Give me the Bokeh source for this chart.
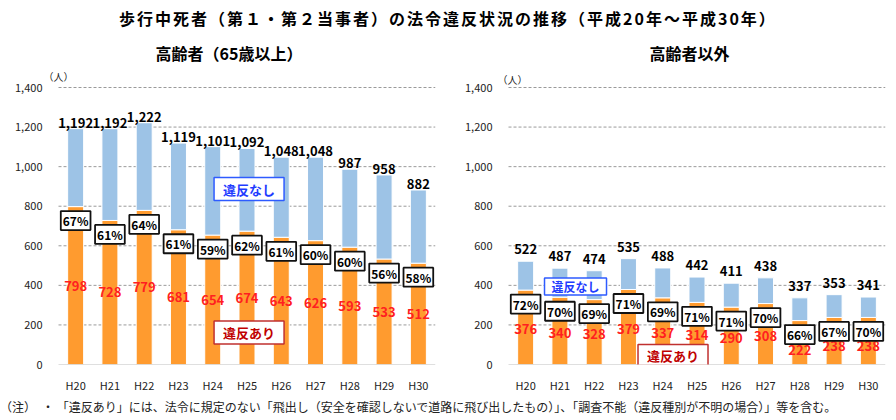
from bokeh.plotting import figure
from bokeh.models import Div, Label, Range1d, FixedTicker, NumeralTickFormatter, ColumnDataSource
from bokeh.layouts import column, row
from bokeh.embed import file_html
from bokeh.resources import INLINE
from bokeh.core.properties import value

years = ["H20", "H21", "H22", "H23", "H24", "H25", "H26", "H27", "H28", "H29", "H30"]
old_total = [1192, 1192, 1222, 1119, 1101, 1092, 1048, 1048, 987, 958, 882]
old_viol = [798, 728, 779, 681, 654, 674, 643, 626, 593, 533, 512]
old_pct = [67, 61, 64, 61, 59, 62, 61, 60, 60, 56, 58]
young_total = [522, 487, 474, 535, 488, 442, 411, 438, 337, 353, 341]
young_viol = [376, 340, 328, 379, 337, 314, 290, 308, 222, 238, 238]
young_pct = [72, 70, 69, 71, 69, 71, 71, 70, 66, 67, 70]
y_ticks = [0, 200, 400, 600, 800, 1000, 1200, 1400]

MAIN_TITLE = "歩行中死者（第１・第２当事者）の法令違反状況の推移（平成20年～平成30年）"
SUB_OLD = "高齢者（65歳以上）"
SUB_YOUNG = "高齢者以外"
NOTE = "（注）　・ 「違反あり」には、法令に規定のない「飛出し（安全を確認しないで道路に飛び出したもの）」、「調査不能（違反種別が不明の場合）」等を含む。"

FONT = "Noto Sans CJK JP"
ORANGE = "#FF9B2F"
BLUE = "#9DC3E6"
RED = "#FF2020"
X0 = -0.938
Y1 = 1491


def panel(total, viol, pct, subtitle, width, mb_right, title_align, title_offset,
          nashi, ari, unit_xy, red_low, total_off):
    p = figure(width=width, height=361, frame_width=392, frame_height=295,
               x_range=Range1d(X0, 10.5), y_range=Range1d(0, Y1),
               output_backend="svg", toolbar_location=None,
               min_border_left=43, min_border_right=mb_right,
               min_border_top=34, min_border_bottom=32)
    p.outline_line_color = None
    p.background_fill_color = "white"
    p.border_fill_color = "white"
    p.title.text = subtitle
    p.title.align = title_align
    p.title.text_font = FONT
    p.title.text_font_size = "16px"
    p.title.text_font_style = "bold"
    p.title.text_color = "#000000"
    p.title.offset = title_offset
    p.title.standoff = 9

    idx = list(range(len(years)))
    if red_low:
        red_y = [min(v / 2 - 10, v - 147) for v in viol]
    else:
        red_y = [v / 2 for v in viol]
    src = ColumnDataSource(dict(
        x=idx, total=total, viol=viol,
        total_lbl=[f"{t:,}" for t in total],
        viol_lbl=[str(v) for v in viol],
        pct_lbl=[f"{q}%" for q in pct],
        red_y=red_y,
    ))
    grid = ColumnDataSource(dict(y=[t for t in y_ticks if t > 0]))
    p.segment(x0=-0.5, x1=10.5, y0="y", y1="y", source=grid, line_color="#9A9A9A",
              line_dash="3 2", line_width=1)

    p.vbar(x="x", bottom=0, top="viol", width=0.467, fill_color=ORANGE,
           line_color="white", line_width=1, source=src)
    p.vbar(x="x", bottom="viol", top="total", width=0.467, fill_color=BLUE,
           line_color="white", line_width=1, source=src)
    p.segment(x0=-0.5, x1=10.5, y0=0, y1=0, line_color="#BFBFBF", line_width=1)

    p.text(x="x", y="total", text="total_lbl", source=src, text_align="center",
           text_baseline="bottom", y_offset=total_off, text_font=value(FONT),
           text_font_size="13px", text_font_style="bold", text_color="#000000")
    p.text(x="x", y="red_y", text="viol_lbl", source=src, text_align="center",
           text_baseline="middle", text_font=value(FONT),
           text_font_size="13px", text_font_style="bold", text_color=RED)
    p.text(x="x", y="viol", text="pct_lbl", source=src, text_align="center",
           text_baseline="middle", y_offset=14, text_font=value(FONT),
           text_font_size="12px", text_font_style="bold", text_color="#000000",
           background_fill_color="white", border_line_color="#111111",
           border_line_width=1.8, padding=(2, 1))

    p.add_layout(Label(x=nashi[0], y=nashi[1], text="違反なし", text_align="center",
                       text_baseline="middle", text_font=FONT, text_font_size=nashi[2],
                       text_font_style="bold", text_color="#1F3CFF",
                       background_fill_color="white", border_line_color="#2E5BFF",
                       border_line_width=1.5, padding=nashi[3]))
    p.add_layout(Label(x=ari[0], y=ari[1], text="違反あり", text_align="center",
                       text_baseline="middle", text_font=FONT, text_font_size=ari[2],
                       text_font_style="bold", text_color="#C00000",
                       background_fill_color="white", border_line_color="#C0302F",
                       border_line_width=1.5, padding=ari[3]))
    p.add_layout(Label(x=unit_xy[0], y=unit_xy[1], text="（人）",
                       text_align="left", text_baseline="middle", text_font=FONT,
                       text_font_size="10px", text_color="#222222"))

    p.xgrid.grid_line_color = None
    p.ygrid.grid_line_color = None

    p.yaxis.ticker = FixedTicker(ticks=y_ticks)
    p.yaxis.formatter = NumeralTickFormatter(format="0,0")
    p.yaxis.axis_line_color = None
    p.yaxis.major_tick_line_color = None
    p.yaxis.minor_tick_line_color = None
    p.yaxis.major_tick_out = 0
    p.yaxis.major_tick_in = 0
    p.yaxis.minor_tick_out = 0
    p.yaxis.major_label_standoff = 1
    p.yaxis.major_label_text_font = FONT
    p.yaxis.major_label_text_font_size = "11px"
    p.yaxis.major_label_text_color = "#222222"

    p.xaxis.ticker = FixedTicker(ticks=idx)
    p.xaxis.major_label_overrides = {i: y for i, y in zip(idx, years)}
    p.xaxis.axis_line_color = None
    p.xaxis.major_tick_line_color = None
    p.xaxis.minor_tick_line_color = None
    p.xaxis.major_tick_out = 0
    p.xaxis.major_tick_in = 0
    p.xaxis.minor_tick_out = 0
    p.xaxis.major_label_standoff = 12
    p.xaxis.major_label_text_font = FONT
    p.xaxis.major_label_text_font_size = "11px"
    p.xaxis.major_label_text_color = "#222222"
    return p


p1 = panel(old_total, old_viol, old_pct, SUB_OLD, 450, 15, "left", 112,
           (5.06, 887, "13px", (9, 2)), (5.06, 162, "13px", (9, 2)),
           (X0, 1456), False, -1)
p2 = panel(young_total, young_viol, young_pct, SUB_YOUNG, 446, 11, "center", 0,
           (1.455, 394, "12px", (7, 0)), (4.30, 48, "13px", (9, 1)),
           (-0.82, 1441), True, -7)

title = Div(text=MAIN_TITLE, width=896, height=34, margin=(0, 0, 0, 0),
            styles={"font-family": FONT, "font-size": "16px", "font-weight": "bold",
                    "text-align": "center", "width": "896px", "line-height": "36px",
                    "color": "#000", "letter-spacing": "2px"})
note = Div(text=NOTE, width=896, height=24, margin=(0, 0, 0, 0),
           styles={"font-family": FONT, "font-size": "12px", "color": "#222",
                   "white-space": "pre", "line-height": "22px"})

layout = column(title, row(p1, p2, spacing=0), note, spacing=0)

with open("out.html", "w") as f:
    f.write(file_html(layout, INLINE))
